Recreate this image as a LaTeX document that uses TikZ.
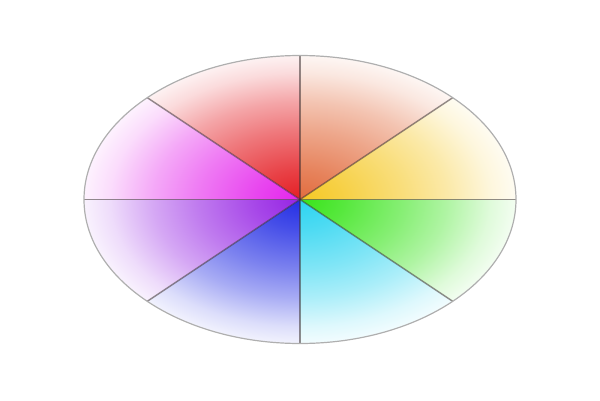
\documentclass[tikz,border=0pt]{standalone}
\definecolor{cOrange}{RGB}{226,108,62}
\definecolor{cRed}{RGB}{228,30,36}
\definecolor{cMagenta}{RGB}{228,36,236}
\definecolor{cPurple}{RGB}{150,36,228}
\definecolor{cBlue}{RGB}{36,46,228}
\definecolor{cCyan}{RGB}{44,212,240}
\definecolor{cGreen}{RGB}{56,228,26}
\definecolor{cYellow}{RGB}{245,200,36}
\definecolor{divcol}{RGB}{60,50,50}
\definecolor{rimcol}{RGB}{175,175,175}
\newcommand\mkfade[2]{%
  \pgfdeclareradialshading{#1}{\pgfpointorigin}{color(0bp)=(#2); color(5bp)=(#2!85!white);
    color(12bp)=(#2!60!white); color(17bp)=(#2!40!white); color(22bp)=(#2!16!white);
    color(25bp)=(#2!6!white); color(50bp)=(white)}}
\mkfade{shYellow}{cYellow}
\mkfade{shOrange}{cOrange}
\mkfade{shRed}{cRed}
\mkfade{shMagenta}{cMagenta}
\mkfade{shPurple}{cPurple}
\mkfade{shBlue}{cBlue}
\mkfade{shCyan}{cCyan}
\mkfade{shGreen}{cGreen}
\tikzset{
  divider/.style={draw=divcol, draw opacity=0.55, line width=1.5pt},
  rimline/.style={draw=rimcol, line width=1.2pt}
}
\begin{document}
\begin{tikzpicture}[x=1pt,y=1pt]
\useasboundingbox (0,0) rectangle (600,400);
\coordinate (c) at (300,200.5);
\foreach \s/\e/\sh in {
   0/45/shYellow, 45/90/shOrange, 90/135/shRed, 135/180/shMagenta,
   180/225/shPurple, 225/270/shBlue, 270/315/shCyan, 315/360/shGreen}{
  \begin{scope}
    \clip (c) -- ++(\s:216 and 144) arc[start angle=\s, end angle=\e, x radius=216, y radius=144] -- cycle;
    \shade[shading=\sh] (c) ellipse[x radius=216, y radius=144];
  \end{scope}
}
\foreach \i/\t in {0/0,1/45,2/90,3/135,4/180,5/225,6/270,7/315}{
  \coordinate (p\i) at ([shift={(c)}] \t:216 and 144);
}
\draw[divider] (p0) -- (p4);
\draw[divider] (p1) -- (p5);
\draw[divider] (p2) -- (p6);
\draw[divider] (p3) -- (p7);
\draw[rimline] (c) ellipse[x radius=216, y radius=144];
\end{tikzpicture}
\end{document}
